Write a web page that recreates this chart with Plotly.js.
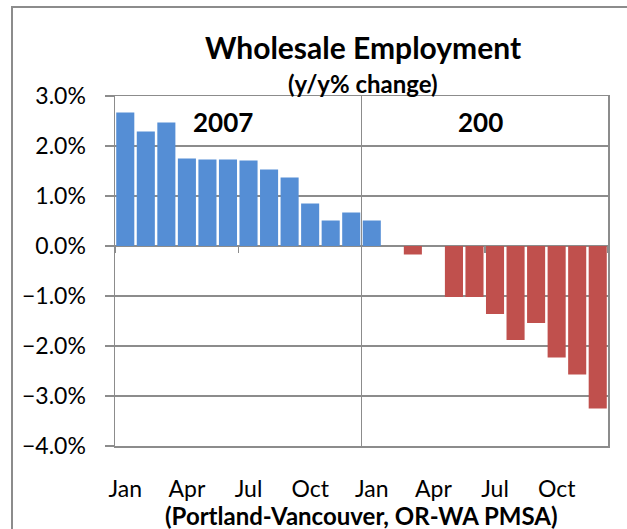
<!DOCTYPE html>
<html>
<head>
<meta charset="utf-8">
<script src="https://cdn.plot.ly/plotly-3.0.1.min.js"></script>
<style>
  html, body { margin: 0; padding: 0; background: #ffffff; }
  #frame { position: absolute; left: 11px; top: 6px; width: 700px; height: 600px;
           border-left: 2px solid #8c8c8c; border-top: 2px solid #8c8c8c; }
  #chart { position: absolute; left: 0; top: 0; width: 627px; height: 529px; }
</style>
</head>
<body>
<div id="frame"></div>
<div id="chart"></div>
<script>
// Monthly categories, Jan 2007 .. Dec 2008
const months = ['Jan','Feb','Mar','Apr','May','Jun','Jul','Aug','Sep','Oct','Nov','Dec',
                'Jan','Feb','Mar','Apr','May','Jun','Jul','Aug','Sep','Oct','Nov','Dec'];
// y/y % change in wholesale employment
const values = [2.67, 2.29, 2.47, 1.75, 1.73, 1.73, 1.71, 1.53, 1.37, 0.85, 0.51, 0.67,
                0.51, 0.00, -0.17, 0.00, -1.02, -1.02, -1.36, -1.88, -1.54, -2.23, -2.57, -3.25];
const tickLabelIdx = [0, 3, 6, 9, 12, 15, 18, 21];
const yRange = [-4, 3];

const xIdx = months.map((m, i) => i);
const colors = values.map(v => v >= 0 ? '#558ED5' : '#C0504D');
const gridCol = '#8c8c8c';
const n = months.length;
const xr = [-0.5, n - 0.5];

const trace = {
  type: 'bar',
  x: xIdx,
  y: values,
  marker: { color: colors },
  hoverinfo: 'skip'
};
// invisible helper traces so the overlay axes render
const helper2 = { type: 'scatter', x: [xr[0]], y: [0], xaxis: 'x2', yaxis: 'y', mode: 'none', hoverinfo: 'skip', showlegend: false };
const helper3 = { type: 'scatter', x: [xr[0]], y: [0], xaxis: 'x3', yaxis: 'y', mode: 'none', hoverinfo: 'skip', showlegend: false };

const yearBounds = [];
for (let i = 0; i <= n; i += 12) yearBounds.push(i - 0.5);
const halfBounds = [];
for (let i = 0; i <= n; i += 6) halfBounds.push(i - 0.5);

const layout = {
  width: 627, height: 529,
  margin: { l: 115, r: 19, t: 96, b: 83 },
  paper_bgcolor: 'rgba(0,0,0,0)',
  plot_bgcolor: 'rgba(0,0,0,0)',
  showlegend: false,
  bargap: 0.12,
  font: { family: 'Lato, sans-serif', color: '#000000' },
  title: {
    text: '<b>Wholesale Employment</b>',
    font: { family: 'Lato, sans-serif', size: 30, color: '#000' },
    x: 0.579, xanchor: 'center', xref: 'container',
    y: 0.909, yanchor: 'middle', yref: 'container'
  },
  xaxis: {
    range: xr,
    tickmode: 'array',
    tickvals: tickLabelIdx,
    ticktext: tickLabelIdx.map(i => months[i]),
    ticks: '',
    showgrid: false,
    zeroline: false,
    showline: false,
    tickfont: { size: 23, family: 'Lato, sans-serif', color: '#000' },
    ticklabelstandoff: 27,
    automargin: false
  },
  xaxis2: {
    overlaying: 'x',
    range: xr,
    anchor: 'free',
    position: (0 - yRange[0]) / (yRange[1] - yRange[0]),
    side: 'bottom',
    tickmode: 'array',
    tickvals: halfBounds,
    ticks: 'outside',
    ticklen: 6,
    tickwidth: 1.5,
    tickcolor: gridCol,
    showticklabels: false,
    showgrid: false,
    zeroline: false,
    showline: false
  },
  xaxis3: {
    overlaying: 'x',
    range: xr,
    anchor: 'y',
    tickmode: 'array',
    tickvals: yearBounds,
    ticks: '',
    showticklabels: false,
    showgrid: true,
    gridcolor: gridCol,
    gridwidth: 1.5,
    zeroline: false,
    showline: true,
    mirror: true,
    linecolor: gridCol,
    linewidth: 1.5
  },
  yaxis: {
    range: yRange,
    tickmode: 'linear',
    tick0: -4,
    dtick: 1,
    ticksuffix: '%',
    tickformat: '.1f',
    ticks: 'outside',
    ticklen: 9,
    tickwidth: 1.5,
    tickcolor: gridCol,
    showgrid: true,
    gridcolor: gridCol,
    gridwidth: 1.5,
    zeroline: true,
    zerolinecolor: gridCol,
    zerolinewidth: 1.5,
    showline: true,
    mirror: true,
    linecolor: gridCol,
    linewidth: 1.5,
    tickfont: { size: 23, family: 'Lato, sans-serif', color: '#000' },
    ticklabelstandoff: 14,
    automargin: false
  },
  annotations: [
    { text: '<b>(y/y% change)</b>', xref: 'paper', yref: 'paper', x: 0.503, y: 1.036,
      xanchor: 'center', yanchor: 'middle', showarrow: false,
      font: { size: 24, family: 'Lato, sans-serif', color: '#000' } },
    { text: '<b>2007</b>', xref: 'paper', yref: 'paper', x: 0.22, y: 0.926,
      xanchor: 'center', yanchor: 'middle', showarrow: false,
      font: { size: 26, family: 'Lato, sans-serif', color: '#000' } },
    { text: '<b>200</b>', xref: 'paper', yref: 'paper', x: 0.742, y: 0.926,
      xanchor: 'center', yanchor: 'middle', showarrow: false,
      font: { size: 26, family: 'Lato, sans-serif', color: '#000' } },
    { text: '<b>(Portland-Vancouver, OR-WA PMSA)</b>', xref: 'paper', yref: 'paper', x: 0.501, y: -0.199,
      xanchor: 'center', yanchor: 'middle', showarrow: false,
      font: { size: 24, family: 'Lato, sans-serif', color: '#000' } }
  ]
};

Plotly.newPlot('chart', [helper3, helper2, trace], layout, { displayModeBar: false, staticPlot: true });
</script>
</body>
</html>
